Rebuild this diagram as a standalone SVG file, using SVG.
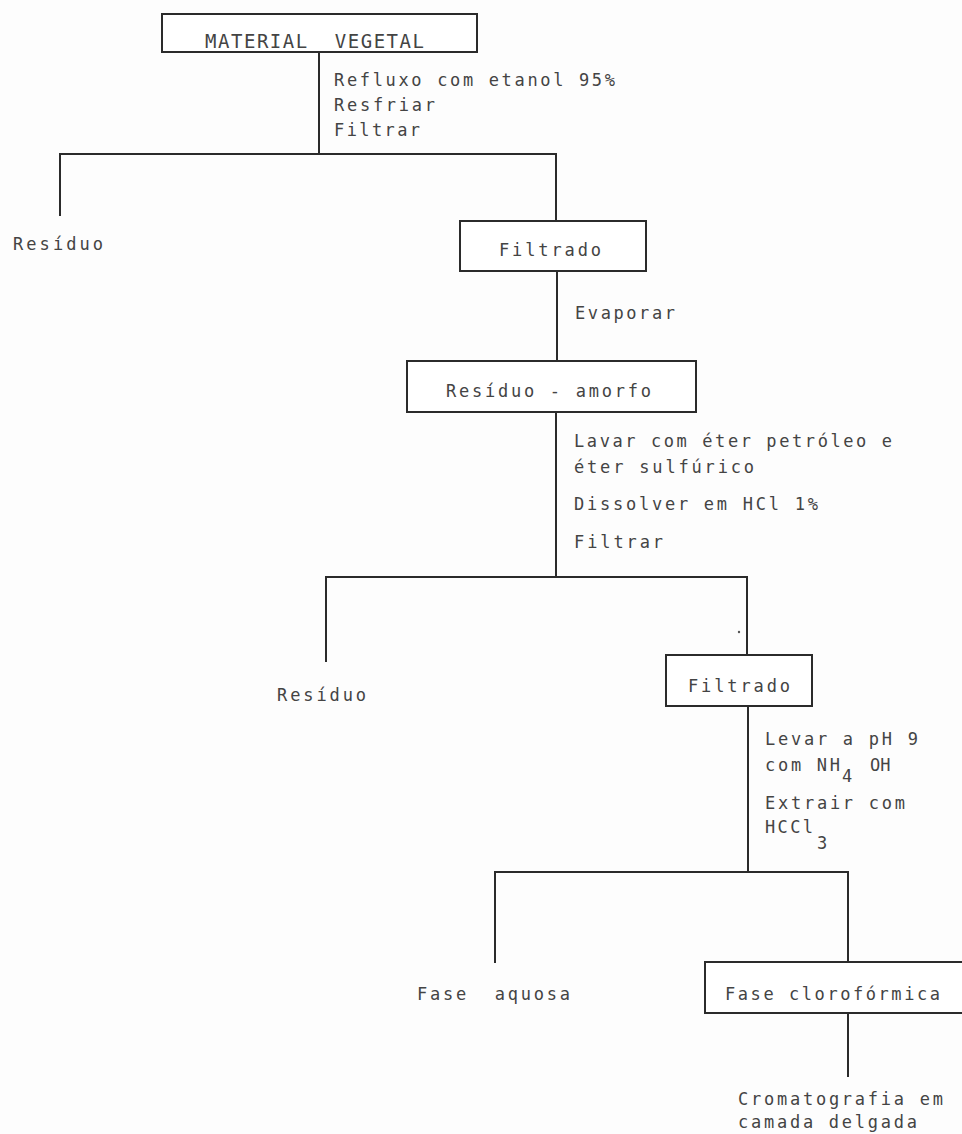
<svg xmlns="http://www.w3.org/2000/svg" width="962" height="1134" viewBox="0 0 962 1134">
<style>
.t { font-family: "DejaVu Sans Mono", "Liberation Mono", monospace; font-size: 17px; fill: #444; white-space: pre; }
.cap { font-size: 19px; }
.box { fill: #fff; stroke: #2b2b2b; stroke-width: 2; }
.ln { fill: none; stroke: #2b2b2b; stroke-width: 2; }
</style>
<rect x="0" y="0" width="962" height="1134" fill="#fdfdfd"/>
<g id="connectors">
  <line class="ln" x1="319" y1="52" x2="319" y2="154"/>
  <polyline class="ln" points="60,216 60,154 556,154 556,221"/>
  <line class="ln" x1="557" y1="271" x2="557" y2="361"/>
  <line class="ln" x1="556" y1="412" x2="556" y2="577"/>
  <polyline class="ln" points="326,662 326,577 747,577 747,655"/>
  <line class="ln" x1="748" y1="706" x2="748" y2="872"/>
  <polyline class="ln" points="495,963 495,872 848,872 848,962"/>
  <line class="ln" x1="848" y1="1013" x2="848" y2="1077"/>
  <circle cx="739" cy="632" r="1.2" fill="#555"/>
  <g id="label-c1">
    <text class="t" x="334" y="86" textLength="281" lengthAdjust="spacing">Refluxo com etanol 95%</text>
    <text class="t" x="334" y="111" textLength="101" lengthAdjust="spacing">Resfriar</text>
    <text class="t" x="334" y="136" textLength="86" lengthAdjust="spacing">Filtrar</text>
  </g>
  <g id="label-c2">
    <text class="t" x="575" y="319" textLength="100" lengthAdjust="spacing">Evaporar</text>
  </g>
  <g id="label-c3">
    <text class="t" x="574" y="447" textLength="318" lengthAdjust="spacing">Lavar com éter petróleo e</text>
    <text class="t" x="574" y="473" textLength="180" lengthAdjust="spacing">éter sulfúrico</text>
    <text class="t" x="574" y="510" textLength="244" lengthAdjust="spacing">Dissolver em HCl 1%</text>
    <text class="t" x="574" y="548" textLength="89" lengthAdjust="spacing">Filtrar</text>
  </g>
  <g id="label-c4">
    <text class="t" x="765" y="745" textLength="153" lengthAdjust="spacing">Levar a pH 9</text>
    <text class="t" x="765" y="771"><tspan textLength="75" lengthAdjust="spacing">com NH</tspan><tspan x="842" y="782">4</tspan><tspan x="870" y="771">OH</tspan></text>
    <text class="t" x="765" y="809" textLength="140" lengthAdjust="spacing">Extrair com</text>
    <text class="t" x="765" y="833"><tspan textLength="48" lengthAdjust="spacing">HCCl</tspan><tspan x="817" y="849">3</tspan></text>
  </g>
</g>
<g id="n-material">
  <rect class="box" x="162" y="14" width="315" height="38"/>
  <text class="t cap" x="205" y="48" textLength="219" lengthAdjust="spacing">MATERIAL  VEGETAL</text>
</g>
<g id="n-residuo1">
  <text class="t" x="13" y="250" textLength="90" lengthAdjust="spacing">Resíduo</text>
</g>
<g id="n-filtrado1">
  <rect class="box" x="460" y="221" width="186" height="50"/>
  <text class="t" x="499" y="256" textLength="102" lengthAdjust="spacing">Filtrado</text>
</g>
<g id="n-residuo-amorfo">
  <rect class="box" x="407" y="361" width="289" height="51"/>
  <text class="t" x="446" y="397" textLength="205" lengthAdjust="spacing">Resíduo - amorfo</text>
</g>
<g id="n-residuo2">
  <text class="t" x="277" y="701" textLength="89" lengthAdjust="spacing">Resíduo</text>
</g>
<g id="n-filtrado2">
  <rect class="box" x="666" y="655" width="146" height="51"/>
  <text class="t" x="688" y="692" textLength="102" lengthAdjust="spacing">Filtrado</text>
</g>
<g id="n-fase-aquosa">
  <text class="t" x="417" y="1000" textLength="153" lengthAdjust="spacing">Fase  aquosa</text>
</g>
<g id="n-fase-cloroformica">
  <rect class="box" x="705" y="962" width="262" height="51"/>
  <text class="t" x="725" y="1000" textLength="215" lengthAdjust="spacing">Fase clorofórmica</text>
</g>
<g id="n-cromatografia">
  <text class="t" x="738" y="1105" textLength="205" lengthAdjust="spacing">Cromatografia em</text>
  <text class="t" x="738" y="1128" textLength="179" lengthAdjust="spacing">camada delgada</text>
</g>
</svg>
